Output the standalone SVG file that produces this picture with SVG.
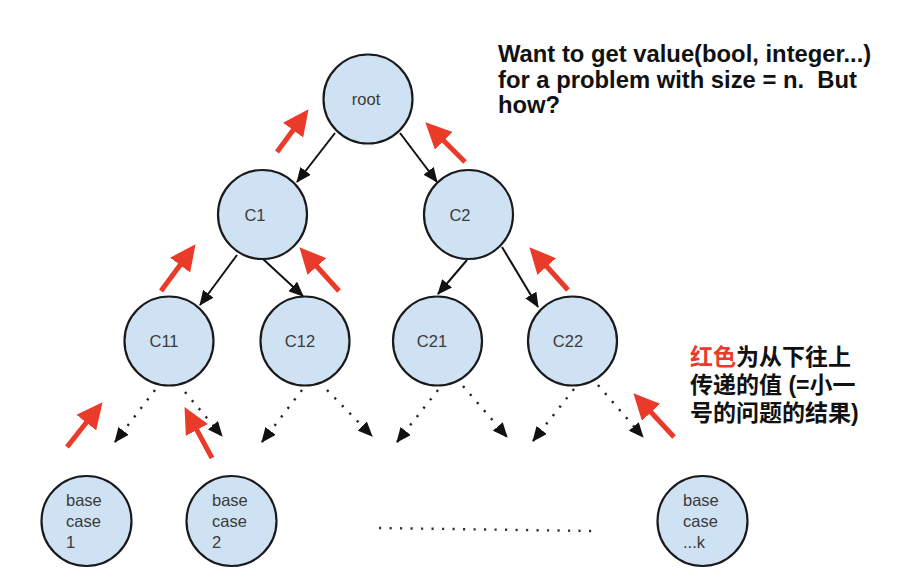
<svg xmlns="http://www.w3.org/2000/svg" width="910" height="582" viewBox="0 0 910 582">
<style>
.node{fill:#cfe2f3;stroke:#1a1a1a;stroke-width:2.2}
.lbl{font-family:"Liberation Sans",Arial,sans-serif;font-size:16.5px;fill:#3a3a3a}
.edge{stroke:#111;stroke-width:2;fill:none;marker-end:url(#ah)}
.dot{stroke:#222;stroke-width:2.4;fill:none;stroke-dasharray:2.2 8.5;marker-end:url(#ah)}
.red{stroke:#ea3a2a;stroke-width:5;fill:none;marker-end:url(#rh)}
.note{font-family:"Liberation Sans",Arial,"Noto Sans CJK SC",sans-serif;font-weight:bold;font-size:23px;fill:#111}
.en{font-size:23.8px}
</style>
<defs>
<marker id="ah" markerUnits="userSpaceOnUse" markerWidth="15" markerHeight="13" refX="14" refY="6.5" orient="auto">
<path d="M0,0 L15,6.5 L0,13 z" fill="#111"/>
</marker>
<marker id="rh" markerUnits="userSpaceOnUse" markerWidth="27" markerHeight="25" refX="1" refY="12.5" orient="auto">
<path d="M0,0 L26,12.5 L0,25 z" fill="#ea3a2a"/>
</marker>
</defs>
<rect width="910" height="582" fill="#fff"/>
<g id="connectors">
<line class="edge" x1="335" y1="133" x2="297" y2="182"/>
<line class="edge" x1="400" y1="133" x2="437" y2="182"/>
<line class="edge" x1="237" y1="255" x2="200" y2="305"/>
<line class="edge" x1="263" y1="259" x2="303" y2="296"/>
<line class="edge" x1="467" y1="260" x2="438" y2="294"/>
<line class="edge" x1="502" y1="247" x2="538" y2="307"/>
<line class="dot" x1="155" y1="390" x2="115" y2="442"/>
<line class="dot" x1="185" y1="392" x2="222" y2="436"/>
<line class="dot" x1="302" y1="390" x2="262" y2="442"/>
<line class="dot" x1="327" y1="390" x2="372" y2="436"/>
<line class="dot" x1="438" y1="390" x2="397" y2="442"/>
<line class="dot" x1="463" y1="386" x2="507" y2="437"/>
<line class="dot" x1="574" y1="389" x2="533" y2="441"/>
<line class="dot" x1="598" y1="385" x2="643" y2="437"/>
<line x1="379" y1="528" x2="592" y2="531" stroke="#333" stroke-width="2.4" stroke-dasharray="2.2 8.3"/>
</g>
<g id="red-arrows">
<line class="red" x1="277" y1="152" x2="293.7" y2="129.3"/>
<line class="red" x1="465" y1="162" x2="443" y2="140"/>
<line class="red" x1="161" y1="291" x2="180.7" y2="264.3"/>
<line class="red" x1="339" y1="291" x2="316.2" y2="265.8"/>
<line class="red" x1="568" y1="290" x2="546.1" y2="265.8"/>
<line class="red" x1="67" y1="447" x2="87" y2="421.8"/>
<line class="red" x1="212" y1="458" x2="196.4" y2="429.1"/>
<line class="red" x1="674" y1="437" x2="650.4" y2="411.5"/>
</g>
<g id="root"><circle class="node" cx="368" cy="99" r="44.5"/><text class="lbl" x="366" y="105" text-anchor="middle">root</text></g>
<g id="C1"><circle class="node" cx="262.5" cy="214.5" r="44.5"/><text class="lbl" x="255" y="221" text-anchor="middle">C1</text></g>
<g id="C2"><circle class="node" cx="468.5" cy="214.5" r="44.5"/><text class="lbl" x="460" y="221" text-anchor="middle">C2</text></g>
<g id="C11"><circle class="node" cx="169" cy="341" r="44.5"/><text class="lbl" x="164" y="347" text-anchor="middle">C11</text></g>
<g id="C12"><circle class="node" cx="305" cy="341" r="44.5"/><text class="lbl" x="300" y="347" text-anchor="middle">C12</text></g>
<g id="C21"><circle class="node" cx="437.5" cy="341" r="44.5"/><text class="lbl" x="432" y="347" text-anchor="middle">C21</text></g>
<g id="C22"><circle class="node" cx="572.5" cy="341" r="44.5"/><text class="lbl" x="568" y="347" text-anchor="middle">C22</text></g>
<g id="base1"><circle class="node" cx="86.5" cy="521" r="45"/><text class="lbl" x="66" y="506">base</text><text class="lbl" x="66" y="527">case</text><text class="lbl" x="66" y="548">1</text></g>
<g id="base2"><circle class="node" cx="231.5" cy="521" r="45"/><text class="lbl" x="212" y="506">base</text><text class="lbl" x="212" y="527">case</text><text class="lbl" x="212" y="548">2</text></g>
<g id="basek"><circle class="node" cx="702.5" cy="521" r="45"/><text class="lbl" x="683" y="506">base</text><text class="lbl" x="683" y="527">case</text><text class="lbl" x="683" y="548">...k</text></g>
<g id="note-top">
<text class="note en" x="498" y="62">Want to get value(bool, integer...)</text>
<text class="note en" x="498" y="88" xml:space="preserve">for a problem with size = n.  But</text>
<text class="note en" x="498" y="113">how?</text>
</g>
<g id="note-cn">
<text class="note" x="690" y="365"><tspan fill="#ea3a2a">红色</tspan>为从下往上</text>
<text class="note" x="690" y="393">传递的值 (=小一</text>
<text class="note" x="690" y="421">号的问题的结果)</text>
</g>
</svg>
